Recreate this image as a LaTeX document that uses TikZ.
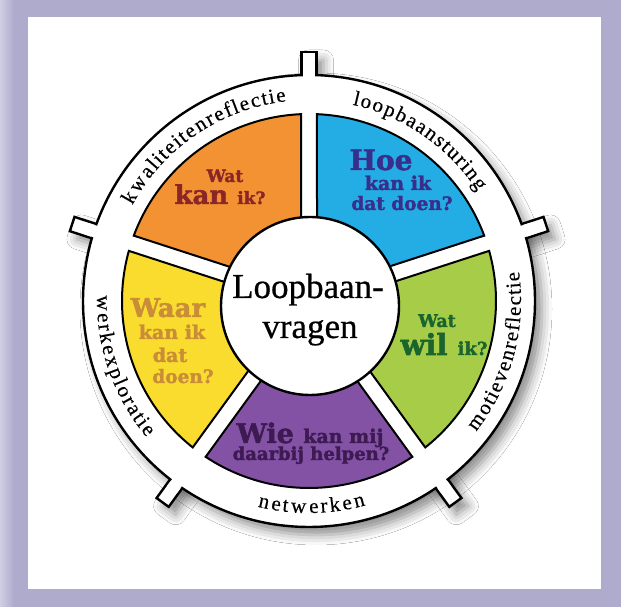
\documentclass[tikz,border=0pt]{standalone}
\usepackage{fontspec}
\setmainfont{Liberation Serif}
\newfontfamily\ringfont{Liberation Serif}[FakeBold=0.3]
\newfontfamily\hubfont{Liberation Serif}[FakeBold=0.6]
\newfontfamily\slabfont{DejaVu Serif}[BoldFeatures={FakeBold=1.8}]
\usetikzlibrary{decorations.text,shadows.blur}
\newcommand\fsz[1]{\fontsize{#1}{#1}\selectfont}
\definecolor{lavender}{RGB}{174,171,205}
\definecolor{lavlight}{RGB}{207,206,227}
\definecolor{kanorange}{RGB}{243,146,50}
\definecolor{hoeblue}{RGB}{36,172,228}
\definecolor{wilgreen}{RGB}{167,205,72}
\definecolor{wiepurple}{RGB}{131,82,165}
\definecolor{waaryellow}{RGB}{249,220,46}
\definecolor{kantext}{RGB}{138,38,40}
\definecolor{hoetext}{RGB}{56,46,140}
\definecolor{wiltext}{RGB}{26,100,46}
\definecolor{wietext}{RGB}{62,26,82}
\definecolor{waartext}{RGB}{201,141,56}
\begin{document}
\begin{tikzpicture}[x=1pt,y=1pt,
  rim/.style={draw=black,line width=2.4pt,fill=white},
  sector/.style={draw=black,line width=2pt},
  ringshadow/.style={blur shadow={shadow xshift=7pt,shadow yshift=-8pt,
    shadow blur radius=10pt,shadow opacity=45}},
  question/.style={font=\slabfont\bfseries\fsz{19},anchor=base,inner sep=0pt},
  ringlabel/.style={decorate,decoration={text effects along path,text={#1},
    text effects/.cd,text along path,fit text to path,
    every character/.append style={font=\ringfont\fsz{21}}}}]
\useasboundingbox (0,0) rectangle (621,607);
\fill[lavender] (0,0) rectangle (621,607);
\shade[left color=lavlight,right color=lavender] (0,0) rectangle (14,607);
\fill[white] (28,18) rectangle (601,590);
%
\begin{scope}[shift={(309,306)}]
\path[ringshadow] (0,0) circle[radius=226];
\foreach \a in {18,90,162,234,306}
  \path[ringshadow] ({\a+90}:7.5) ++(\a:215) -- ++(\a:34) -- ++({\a-90}:15)
    -- ++({\a+180}:34) -- cycle;
\foreach \a in {18,90,162,234,306}
  \draw[rim] ({\a+90}:7.5) ++(\a:215) -- ++(\a:34) -- ++({\a-90}:15)
    -- ++({\a+180}:34) -- cycle;
\draw[rim] (0,0) circle[radius=226];
\foreach \a in {18,90,162,234,306}
  \fill[white] ({\a+90}:6) ++(\a:219) -- ++(\a:14) -- ++({\a-90}:12)
    -- ++({\a+180}:14) -- cycle;
%
\foreach \a/\col in {18/hoeblue,90/kanorange,162/waaryellow,234/wiepurple,306/wilgreen}
  \draw[sector,fill=\col] ({\a+asin(8/75)}:75) -- ({\a+asin(8/187)}:187)
    arc[start angle={\a+asin(8/187)},end angle={\a+72-asin(8/187)},radius=187]
    -- ({\a+72-asin(8/75)}:75) -- cycle;
%
\path[ringlabel=kwaliteitenreflectie] (151.5:201) arc[start angle=151.5,end angle=96.5,radius=201];
\path[ringlabel=loopbaansturing] (77.5:201) arc[start angle=77.5,end angle=33,radius=201];
\path[ringlabel=motievenreflectie] (-38:212) arc[start angle=-38,end angle=8,radius=212];
\path[ringlabel=netwerken] (-104:212) arc[start angle=-104,end angle=-74.5,radius=212];
\path[ringlabel=werkexploratie] (178.5:212) arc[start angle=178.5,end angle=220,radius=212];
\end{scope}
%
\node[circle,draw=black,line width=2.4pt,fill=white,minimum size=178pt,inner sep=0pt]
  (hub) at (310,301) {};
\node[font=\hubfont\fsz{35},anchor=base] (loop) at (308,309) {Loopbaan-};
\node[font=\hubfont\fsz{35},anchor=base] (vragen) at (310,269) {vragen};
%
\node[question,text=kantext] (wat1) at (225,425) {\fsz{17}Wat};
\node[question,text=kantext] (kan1) at (220,403) {\fsz{26}kan \fsz{17}ik?};
\node[question,text=hoetext] (hoe1) at (381,437) {\fsz{28}Hoe};
\node[question,text=hoetext] (hoe2) at (398,417) {kan ik};
\node[question,text=hoetext] (hoe3) at (402,397) {\fsz{18.5}dat doen?};
\node[question,text=wiltext] (wat2) at (437,280) {\fsz{17.5}Wat};
\node[question,text=wiltext] (wil1) at (444,252) {\fsz{29}wil \fsz{18}ik?};
\node[question,text=waartext] (waar1) at (168,290) {\fsz{26}Waar};
\node[question,text=waartext] (waar2) at (172,268) {kan ik};
\node[question,text=waartext] (waar3) at (170,245) {dat};
\node[question,text=waartext] (waar4) at (183,224) {\fsz{18.5}doen?};
\node[question,text=wietext] (wie1) at (310,164) {\fsz{27}Wie \fsz{19}kan mij};
\node[question,text=wietext] (wie2) at (311,147) {\fsz{18}daarbij helpen?};
\end{tikzpicture}
\end{document}
